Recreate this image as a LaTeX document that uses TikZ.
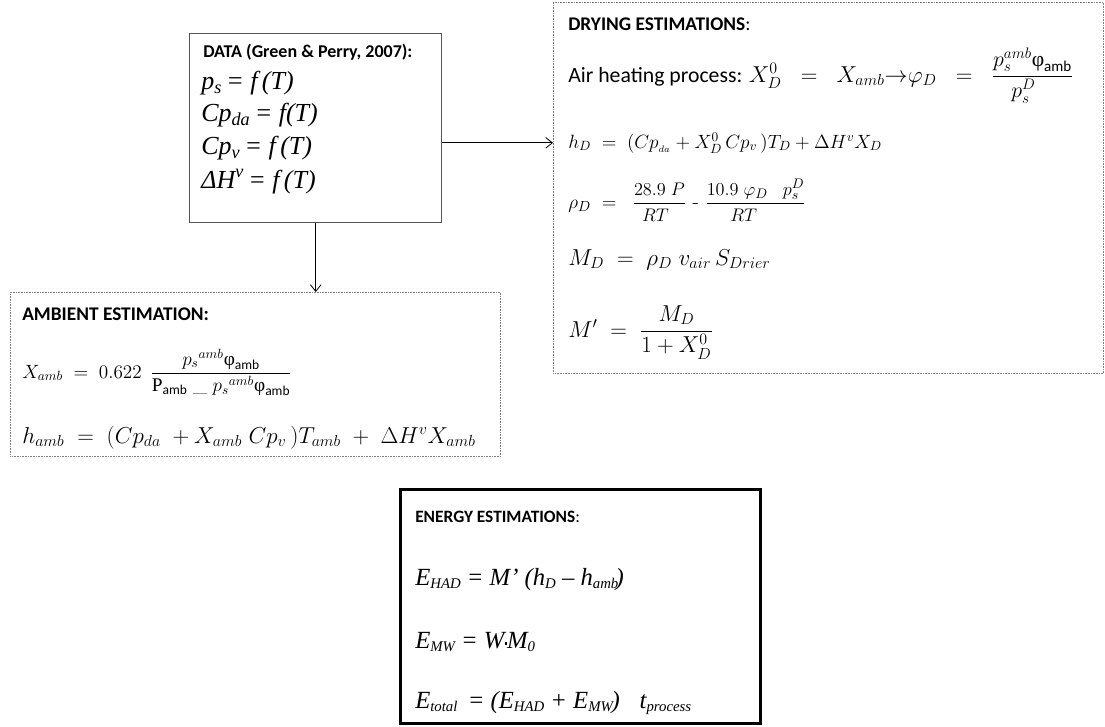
\documentclass[tikz,border=0pt]{standalone}
\usepackage{amsmath}
\usepackage{fontspec}
\setsansfont{Carlito}
\newfontfamily\timesfont{Liberation Serif}
\definecolor{DataGrey}{HTML}{555555}
\definecolor{DotGrey}{HTML}{7F7F7F}
\usetikzlibrary{arrows.meta,positioning}

\newcommand{\upphi}{\text{\timesfont\upshape φ}}
\newcommand{\sub}[1]{\raisebox{-0.35ex}{\scalebox{0.6}{#1}}}
\newcommand{\mfrac}[3][0.8]{\dfrac{\scalebox{#1}{$#2$}}{\scalebox{#1}{$#3$}}}

\tikzset{
  box/.style={anchor=north west, inner sep=0pt},
  databox/.style={box, draw=DataGrey, line width=1.1pt},
  dotbox/.style={box, draw=DotGrey, line width=0.6pt, dash pattern=on 0.6pt off 0.6pt},
  energybox/.style={box, draw=black, line width=2.2pt},
  heading/.style={anchor=base west, inner sep=0pt, font=\sffamily\fontsize{14.5}{17}\selectfont},
  eqn/.style={anchor=base west, inner sep=0pt, font=\fontsize{14.5}{17}\selectfont},
  italeqn/.style={anchor=base west, inner sep=0pt, font=\timesfont\itshape\fontsize{18.5}{22}\selectfont},
  arr/.style={-{Straight Barb[length=5pt,width=8pt]}, line width=0.6pt}
}

\begin{document}
\begin{tikzpicture}[x=0.75pt, y=-0.75pt]
  \useasboundingbox (0,0) rectangle (1105,726);

  % boxes
  \node[databox, minimum width=189pt, minimum height=141.75pt] (data) at (189,33) {};
  \node[dotbox, minimum width=412.5pt, minimum height=278.25pt] (drying) at (553,2) {};
  \node[dotbox, minimum width=367.5pt, minimum height=123pt] (ambient) at (10,292) {};
  \node[energybox, minimum width=270pt, minimum height=175.5pt] (energy) at (399,488) {};

  % data
  \node[heading, font=\sffamily\bfseries\fontsize{13.5}{16}\selectfont] (datatitle) at (203,57) {DATA (Green \& Perry, 2007):};
  \node[italeqn, font=\timesfont\itshape\fontsize{19.5}{22}\selectfont] (ps) at (201,89) {p\textsubscript{s}\,= f\,(T)};
  \node[italeqn, font=\timesfont\itshape\fontsize{19.5}{22}\selectfont] (cpda) at (201,121) {Cp\textsubscript{da}\,= f(T)};
  \node[italeqn, font=\timesfont\itshape\fontsize{19.5}{22}\selectfont] (cpv) at (201,154) {Cp\textsubscript{v}\,= f\,(T)};
  \node[italeqn, font=\timesfont\itshape\fontsize{19.5}{22}\selectfont] (dh) at (201,188) {ΔH\textsuperscript{v}\,= f\,(T)};

  % drying
  \node[heading] (dryingtitle) at (568,30) {\textbf{DRYING ESTIMATIONS}:};
  \node[heading, font=\sffamily\fontsize{16.3}{20}\selectfont] (airheat) at (568,82) {Air heating process:
    \fontsize{17}{20}\selectfont$X_D^0 \;\;=\;\; X_{amb}{\rightarrow}\varphi_D \;\;=\;\; \mfrac[0.95]{p_s^{amb}\upphi_{\textsf{amb}}}{p_s^D}$};
  \node[eqn] (hD) at (568,148) {$h_D \;=\; (Cp_{{}_{da}} + X_D^0\,Cp_v\,)T_D + \Delta H^v X_D$};
  \node[eqn, font=\fontsize{15.5}{18}\selectfont] (rhoD) at (568,208) {$\rho_D \;=\; \;\mfrac[0.95]{28.9\;P}{RT}\text{ - }\mfrac[0.95]{10.9\;\varphi_D\;\;\;p_s^D}{RT}$};
  \node[eqn, font=\fontsize{16.5}{20}\selectfont] (MD) at (568,265) {$M_D \;=\; \rho_D\;v_{air}\,S_{Drier}$};
  \node[eqn, font=\fontsize{16.5}{20}\selectfont] (Mp) at (568,337) {$M' \;=\; \dfrac{M_D}{1+X_D^0}$};

  % ambient
  \node[heading] (ambtitle) at (22,320) {\textbf{AMBIENT ESTIMATION:}};
  \node[eqn] (Xamb) at (22,378) {$X_{amb} \;=\; 0.622\;\, \dfrac{{p_s}^{amb}\upphi_{\textsf{amb}}}{\text{\timesfont P}_{\textsf{amb}}\;\text{\_}\;{p_s}^{amb}\upphi_{\textsf{amb}}}$};
  \node[eqn, font=\fontsize{18.3}{21}\selectfont] (hamb) at (22,443) {$h_{amb} \;=\; (Cp_{da}\; + X_{amb}\;Cp_v\,)T_{amb} \;+\; \Delta H^v X_{amb}$};

  % energy
  \node[heading, font=\sffamily\fontsize{13}{15}\selectfont] (energytitle) at (415,522) {\textbf{ENERGY ESTIMATIONS}:};
  \node[italeqn] (EHAD) at (415,585) {E\sub{HAD} = M’ (h\sub{D} – h\sub{amb}\kern-2pt)};
  \node[italeqn] (EMW) at (415,648) {E\sub{MW} = W\raisebox{0.3ex}{\rule{2pt}{2pt}}M\sub{0}};
  \node[italeqn] (Etotal) at (415,708) {E\sub{total} \,= (E\sub{HAD} + E\sub{MW}\kern-1pt) \;\;t\sub{process}};

  % connectors
  \draw[arr] (data.east |- hD) -- (drying.west |- hD);
  \draw[arr] (data.south) -- (data.south |- ambient.north);
\end{tikzpicture}
\end{document}
